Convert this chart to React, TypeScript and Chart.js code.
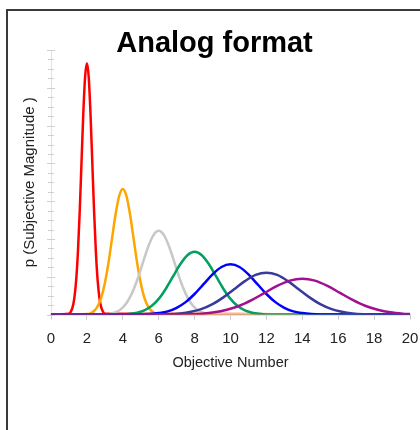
import { useEffect, useRef } from "react";
import { Chart, registerables } from "chart.js";

Chart.register(...registerables);

const FONT = "'Liberation Sans', Arial, Helvetica, sans-serif";

const chartTitle = "Analog format";
const xTitle = "Objective Number";
const yTitle = "p (Subjective Magnitude )";

const redX = [0, 1.0, 1.1, 1.2, 1.3, 1.4, 1.5, 1.6, 1.7, 1.8, 1.9, 2.0, 2.1, 2.2, 2.3, 2.4, 2.5, 2.6, 2.7, 2.8, 2.9, 3.0, 20];
const redY = [0, 0.005, 0.015, 0.038, 0.087, 0.18, 0.332, 0.547, 0.807, 1.065, 1.258, 1.33, 1.258, 1.065, 0.807, 0.547, 0.332, 0.18, 0.087, 0.038, 0.015, 0.005, 0];

const orangeX = [0, 2.0, 2.2, 2.4, 2.6, 2.8, 3.0, 3.2, 3.4, 3.6, 3.8, 4.0, 4.2, 4.4, 4.6, 4.8, 5.0, 5.2, 5.4, 5.6, 5.8, 6.0, 20];
const orangeY = [0, 0.003, 0.007, 0.019, 0.044, 0.09, 0.166, 0.273, 0.403, 0.532, 0.629, 0.665, 0.629, 0.532, 0.403, 0.273, 0.166, 0.09, 0.044, 0.019, 0.007, 0.003, 0];

const grayX = [0, 3.0, 3.3, 3.6, 3.9, 4.2, 4.5, 4.8, 5.1, 5.4, 5.7, 6.0, 6.3, 6.6, 6.9, 7.2, 7.5, 7.8, 8.1, 8.4, 8.7, 9.0, 20];
const grayY = [0, 0.002, 0.005, 0.013, 0.029, 0.06, 0.111, 0.182, 0.269, 0.355, 0.419, 0.443, 0.419, 0.355, 0.269, 0.182, 0.111, 0.06, 0.029, 0.013, 0.005, 0.002, 0];

const greenX = [0, 4.0, 4.4, 4.8, 5.2, 5.6, 6.0, 6.4, 6.8, 7.2, 7.6, 8.0, 8.4, 8.8, 9.2, 9.6, 10.0, 10.4, 10.8, 11.2, 11.6, 12.0, 20];
const greenY = [0, 0.001, 0.004, 0.01, 0.022, 0.045, 0.083, 0.137, 0.202, 0.266, 0.314, 0.332, 0.314, 0.266, 0.202, 0.137, 0.083, 0.045, 0.022, 0.01, 0.004, 0.001, 0];

const blueX = [0, 5.0, 5.5, 6.0, 6.5, 7.0, 7.5, 8.0, 8.5, 9.0, 9.5, 10.0, 10.5, 11.0, 11.5, 12.0, 12.5, 13.0, 13.5, 14.0, 14.5, 15.0, 20];
const blueY = [0, 0.001, 0.003, 0.008, 0.017, 0.036, 0.066, 0.109, 0.161, 0.213, 0.252, 0.266, 0.252, 0.213, 0.161, 0.109, 0.066, 0.036, 0.017, 0.008, 0.003, 0.001, 0];

const navyX = [0, 6.0, 6.6, 7.2, 7.8, 8.4, 9.0, 9.6, 10.2, 10.8, 11.4, 12.0, 12.6, 13.2, 13.8, 14.4, 15.0, 15.6, 16.2, 16.8, 17.4, 18.0, 20];
const navyY = [0, 0.001, 0.002, 0.006, 0.015, 0.03, 0.055, 0.091, 0.134, 0.177, 0.21, 0.222, 0.21, 0.177, 0.134, 0.091, 0.055, 0.03, 0.015, 0.006, 0.002, 0.001, 0];

const purpleX = [0, 7.0, 7.7, 8.4, 9.1, 9.8, 10.5, 11.2, 11.9, 12.6, 13.3, 14.0, 14.7, 15.4, 16.1, 16.8, 17.5, 18.2, 18.9, 19.6, 20];
const purpleY = [0, 0.001, 0.002, 0.005, 0.012, 0.026, 0.047, 0.078, 0.115, 0.152, 0.18, 0.19, 0.18, 0.152, 0.115, 0.078, 0.047, 0.026, 0.012, 0.005, 0.003];

const seriesNames = ["2", "4", "6", "8", "10", "12", "14"];
const seriesColors = ["#ff0000", "#ffa500", "#c8c8c8", "#00a060", "#0000ff", "#3a3a9a", "#a0108f"];
const seriesXs = [redX, orangeX, grayX, greenX, blueX, navyX, purpleX];
const seriesYs = [redY, orangeY, grayY, greenY, blueY, navyY, purpleY];

const xMin = 0;
const xMax = 20;
const xStep = 2;
const yMin = 0;
const yMax = 1.4;
const yMinorStep = 0.05;

const yTickPlugin = {
  id: "yTickMarks",
  beforeDatasetsDraw(chart: any) {
    const scale = chart.scales.y;
    const ctx = chart.ctx;
    const x0 = chart.chartArea.left;
    ctx.save();
    ctx.strokeStyle = "#cfcfcf";
    ctx.lineWidth = 1;
    scale.ticks.forEach((t: any, i: number) => {
      const y = Math.round(scale.getPixelForValue(t.value)) + 0.5;
      const half = i % 4 === 0 ? 4 : 3;
      ctx.beginPath();
      ctx.moveTo(x0 - half, y);
      ctx.lineTo(x0 + half, y);
      ctx.stroke();
    });
    ctx.restore();
  },
};

const titlePlugin = {
  id: "bigTitle",
  afterDraw(chart: any) {
    const ctx = chart.ctx;
    ctx.save();
    ctx.font = `bold 29px ${FONT}`;
    ctx.fillStyle = "#000";
    ctx.textAlign = "center";
    ctx.textBaseline = "alphabetic";
    ctx.fillText(chartTitle, 214.5, 52);
    ctx.restore();
  },
};

export default function App() {
  const ref = useRef<HTMLCanvasElement>(null);

  useEffect(() => {
    if (!ref.current) return;
    const n = seriesNames.length;
    const chart = new Chart(ref.current, {
      type: "line",
      data: {
        datasets: seriesNames.map((name, i) => ({
          label: name,
          data: seriesXs[i].map((x, j) => ({ x, y: seriesYs[i][j] })),
          borderColor: seriesColors[i],
          backgroundColor: seriesColors[i],
          borderWidth: 2.5,
          pointRadius: 0,
          fill: false,
          cubicInterpolationMode: "monotone" as const,
          order: n - i,
        })),
      },
      options: {
        responsive: false,
        animation: false,
        events: [],
        layout: { padding: { left: 17, right: 10, top: 50, bottom: 58 } },
        plugins: {
          legend: { display: false },
          tooltip: { enabled: false },
          title: { display: false },
        },
        scales: {
          x: {
            type: "linear",
            min: xMin,
            max: xMax,
            afterFit: (scale: any) => {
              scale.paddingLeft = 0;
              scale.paddingRight = 0;
            },
            ticks: {
              stepSize: xStep,
              color: "#222",
              font: { size: 15, family: FONT },
              padding: 10,
              maxRotation: 0,
            },
            grid: { drawOnChartArea: false, drawTicks: true, tickLength: 5, color: "#c8c8c8" },
            border: { color: "#c8c8c8", width: 1.5 },
            title: {
              display: true,
              text: xTitle,
              color: "#222",
              font: { size: 14.5, family: FONT },
              padding: { top: -3, bottom: 0 },
            },
          },
          y: {
            type: "linear",
            min: yMin,
            max: yMax,
            ticks: { display: false, stepSize: yMinorStep },
            grid: { display: false, drawTicks: false },
            border: { display: true, color: "#e2e2e2", width: 1 },
            title: {
              display: true,
              text: yTitle,
              color: "#222",
              font: { size: 15, family: FONT },
              padding: { top: 4, bottom: 12 },
            },
          },
        },
      },
      plugins: [yTickPlugin, titlePlugin],
    });
    return () => chart.destroy();
  }, []);

  return (
    <div style={{ position: "fixed", left: 0, top: 0, width: 420, height: 430, overflow: "hidden", background: "#fff" }}>
      <div
        style={{
          position: "absolute",
          left: 6,
          top: 9,
          width: 600,
          height: 600,
          border: "2px solid #3a3a3a",
        }}
      />
      <canvas ref={ref} width={420} height={430} style={{ position: "absolute", left: 0, top: 0, width: 420, height: 430 }} />
    </div>
  );
}
